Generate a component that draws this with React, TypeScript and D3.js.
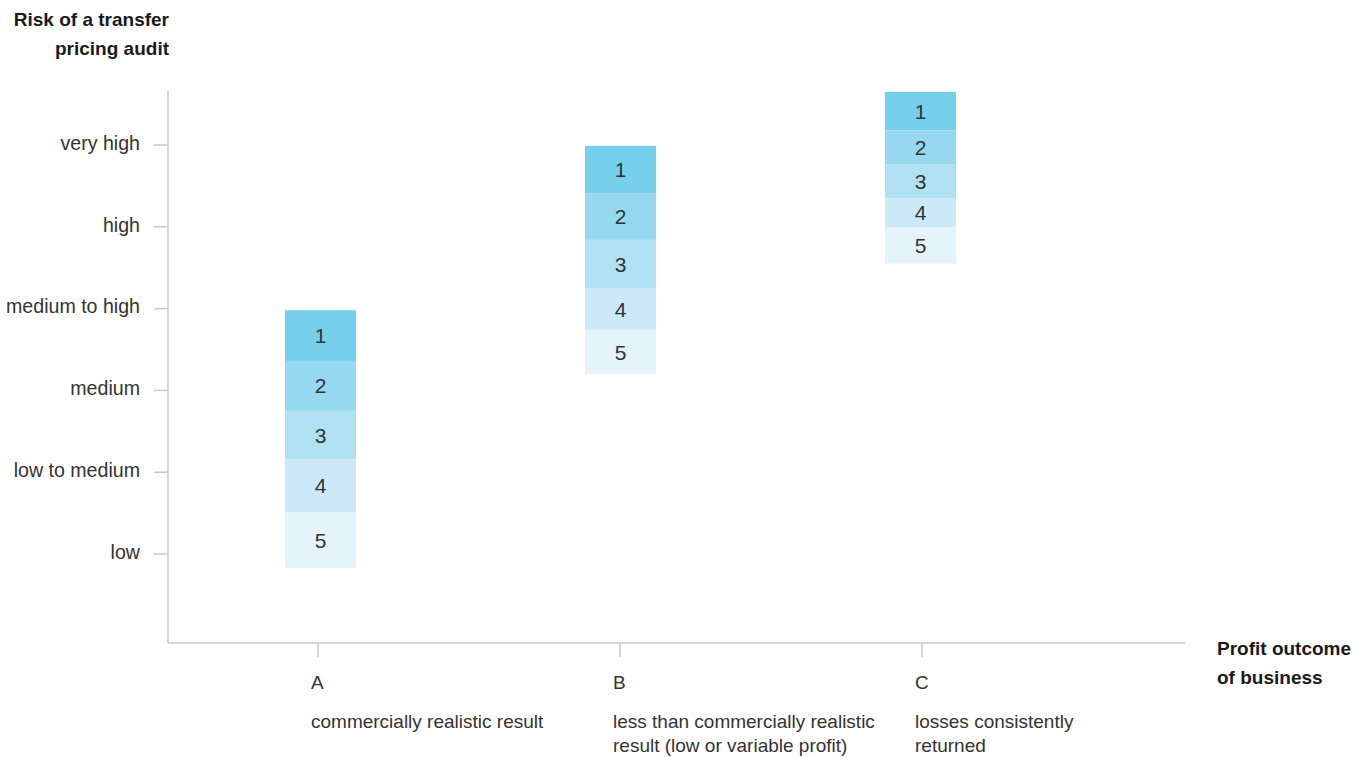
import React from "react";
import * as d3 from "d3";

// Categories on the x axis
const categories = ["A", "B", "C"];
const descriptions = [
  ["commercially realistic result"],
  ["less than commercially realistic", "result (low or variable profit)"],
  ["losses consistently", "returned"],
];
// Y tick labels (risk levels 1..6)
const riskLabels = ["low", "low to medium", "medium", "medium to high", "high", "very high"];
const riskValues = [1, 2, 3, 4, 5, 6];
// Segment boundaries (risk-level units): top, then bottom of segments 1..5
const boundsA = [3.98, 3.36, 2.75, 2.16, 1.51, 0.83];
const boundsB = [5.99, 5.41, 4.84, 4.25, 3.74, 3.2];
const boundsC = [6.65, 6.18, 5.76, 5.35, 4.99, 4.55];
const allBounds = [boundsA, boundsB, boundsC];
const segmentLabels = ["1", "2", "3", "4", "5"];
const segmentColors = ["#77d0eb", "#95d8ef", "#b0e1f2", "#cbe9f6", "#e5f3fa"];

const FONT = "'Liberation Sans', Arial, Helvetica, sans-serif";

export default function App() {
  const W = 1367, H = 757;
  const axisX = 168, axisBottom = 643, axisTop = 91, axisRight = 1185;
  const y = d3.scaleLinear().domain([1, 6]).range([554, 145]);
  const xTick = d3.scalePoint<string>().domain(categories).range([318, 922]);
  const xBar = d3.scalePoint<string>().domain(categories).range([320.5, 920.5]);
  const barW = 71;

  return (
    <svg width={W} height={H} style={{ position: "absolute", left: 0, top: 0, background: "#fff" }}
      fontFamily={FONT}>
      {/* titles */}
      <text x={169} y={26} textAnchor="end" fontWeight="bold" fontSize={19} fill="#1a1a1a">Risk of a transfer</text>
      <text x={169} y={55} textAnchor="end" fontWeight="bold" fontSize={19} fill="#1a1a1a">pricing audit</text>
      <text x={1217} y={655} fontWeight="bold" fontSize={19} fill="#1a1a1a">Profit outcome</text>
      <text x={1217} y={684} fontWeight="bold" fontSize={19} fill="#1a1a1a">of business</text>

      {/* axes */}
      <line x1={axisX} x2={axisX} y1={axisTop} y2={axisBottom} stroke="#c8c8c8" strokeWidth={1.5} />
      <line x1={axisX} x2={axisRight} y1={axisBottom} y2={axisBottom} stroke="#c8c8c8" strokeWidth={1.5} />

      {riskValues.map((v, i) => (
        <g key={v}>
          <line x1={154} x2={axisX} y1={y(v)} y2={y(v)} stroke="#c8c8c8" strokeWidth={1.5} />
          <text x={140} y={y(v) - 2} dy="0.35em" textAnchor="end" fontSize={19.6} fill="#333">{riskLabels[i]}</text>
        </g>
      ))}

      {categories.map((c, i) => {
        const tx = xTick(c)!;
        const cx = xBar(c)!;
        const b = allBounds[i];
        return (
          <g key={c}>
            <line x1={tx} x2={tx} y1={axisBottom} y2={657} stroke="#c8c8c8" strokeWidth={1.5} />
            <text x={tx - 7} y={689} fontSize={19} fill="#333">{c}</text>
            {descriptions[i].map((d, j) => (
              <text key={j} x={tx - 7} y={728 + j * 24} fontSize={19} fill="#333">{d}</text>
            ))}
            {segmentLabels.map((s, k) => {
              const top = y(b[k]);
              const bot = y(b[k + 1]);
              return (
                <g key={s}>
                  <rect x={cx - barW / 2} y={top} width={barW} height={bot - top} fill={segmentColors[k]} />
                  <text x={cx} y={(top + bot) / 2} dy="0.36em" textAnchor="middle" fontSize={21} fill="#333">{s}</text>
                </g>
              );
            })}
          </g>
        );
      })}
    </svg>
  );
}
